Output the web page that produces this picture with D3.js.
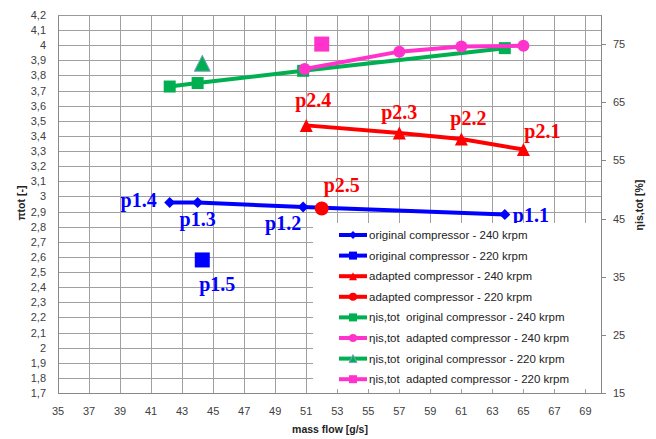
<!DOCTYPE html>
<html>
<head>
<meta charset="utf-8">
<script src="https://cdn.jsdelivr.net/npm/d3@7"></script>
<style>
  body { margin: 0; background: #fff; }
  svg { display: block; font-family: "Liberation Sans", Arial, sans-serif; }
</style>
</head>
<body>
<svg id="chart" width="656" height="439"></svg>
<script>
// data
var origMass240 = [42.2, 44.0, 50.8, 63.8];
var origPi240 = [2.96, 2.96, 2.93, 2.88];
var origMass220 = [44.3];
var origPi220 = [2.58];
var adapMass240 = [51.0, 57.0, 61.0, 65.0];
var adapPi240 = [3.47, 3.42, 3.38, 3.31];
var adapMass220 = [52.0];
var adapPi220 = [2.92];

var effOrigMass240 = [42.2, 44.0, 50.8, 63.8];
var effOrig240 = [67.7, 68.3, 70.4, 74.3];
var effAdapMass240 = [50.9, 57.0, 61.0, 65.0];
var effAdap240 = [70.7, 73.7, 74.6, 74.7];
var effOrigMass220 = [44.3];
var effOrig220 = [71.7];
var effAdapMass220 = [52.0];
var effAdap220 = [75.0];

var origLabels240 = ["p1.4", "p1.3", "p1.2", "p1.1"];
var origLabels220 = ["p1.5"];
var adapLabels240 = ["p2.4", "p2.3", "p2.2", "p2.1"];
var adapLabels220 = ["p2.5"];

var massTicks = d3.range(35, 70, 2);
var effTicks = [15, 25, 35, 45, 55, 65, 75];

var legendNames = [
  "original compressor - 240 krpm",
  "original compressor - 220 krpm",
  "adapted compressor - 240 krpm",
  "adapted compressor - 220 krpm",
  "ηis,tot  original compressor - 240 krpm",
  "ηis,tot  adapted compressor - 240 krpm",
  "ηis,tot  original compressor - 220 krpm",
  "ηis,tot  adapted compressor - 220 krpm"
];

var blue = "#0000ff", red = "#ff0000", green = "#00b050", pink = "#ff33cc";

var svg = d3.select("#chart");
var plotL = 58, plotR = 601, plotT = 15, plotB = 393;

var x = d3.scaleLinear().domain([35, 70]).range([plotL, plotR]);
var y = d3.scaleLinear().domain([1.7, 4.2]).range([plotB, plotT]);
var y2 = d3.scaleLinear().domain([15, 80]).range([plotB, plotT]);

var piTicks = y.ticks(25);
var comma = function (v) { return d3.format("~g")(v).replace(".", ","); };

// grid
var grid = svg.append("g");
grid.selectAll(".hg").data(piTicks).enter().append("line")
  .attr("x1", plotL).attr("x2", plotR)
  .attr("y1", function (d) { return Math.round(y(d)) + 0.5; })
  .attr("y2", function (d) { return Math.round(y(d)) + 0.5; })
  .attr("stroke", "#a0a0a0");
grid.selectAll(".vg").data(massTicks).enter().append("line")
  .attr("y1", plotT).attr("y2", plotB)
  .attr("x1", function (d) { return Math.round(x(d)) + 0.5; })
  .attr("x2", function (d) { return Math.round(x(d)) + 0.5; })
  .attr("stroke", "#a0a0a0");

// axis lines
svg.append("line").attr("x1", plotL + 0.5).attr("x2", plotL + 0.5).attr("y1", plotT).attr("y2", plotB + 0.5).attr("stroke", "#888");
svg.append("line").attr("x1", plotR + 0.5).attr("x2", plotR + 0.5).attr("y1", plotT).attr("y2", plotB + 0.5).attr("stroke", "#888");
svg.append("line").attr("x1", plotL).attr("x2", plotR + 0.5).attr("y1", plotB + 0.5).attr("y2", plotB + 0.5).attr("stroke", "#888");
svg.append("line").attr("x1", plotL).attr("x2", plotR + 0.5).attr("y1", plotT + 0.5).attr("y2", plotT + 0.5).attr("stroke", "#999");

// tick labels
svg.selectAll(".yl").data(piTicks).enter().append("text")
  .attr("x", 46).attr("y", function (d) { return y(d) + 4; })
  .attr("text-anchor", "end").attr("font-size", 11).attr("fill", "#404040")
  .text(comma);
svg.selectAll(".xl").data(massTicks).enter().append("text")
  .attr("x", function (d) { return x(d); }).attr("y", 415)
  .attr("text-anchor", "middle").attr("font-size", 11).attr("fill", "#404040")
  .text(function (d) { return d; });
svg.selectAll(".rt").data(effTicks).enter().append("line")
  .attr("x1", plotR).attr("x2", plotR + 5)
  .attr("y1", function (d) { return Math.round(y2(d)) + 0.5; })
  .attr("y2", function (d) { return Math.round(y2(d)) + 0.5; })
  .attr("stroke", "#888");
svg.selectAll(".rl").data(effTicks).enter().append("text")
  .attr("x", 613).attr("y", function (d) { return y2(d) + 4; })
  .attr("font-size", 11).attr("fill", "#404040")
  .text(function (d) { return d; });

// axis titles
svg.append("text").attr("transform", "translate(25,203) rotate(-90)")
  .attr("text-anchor", "middle").attr("font-size", 10.5).attr("font-weight", "bold").attr("fill", "#222")
  .text("πtot [-]");
svg.append("text").attr("transform", "translate(643,205) rotate(-90)")
  .attr("text-anchor", "middle").attr("font-size", 10.5).attr("font-weight", "bold").attr("fill", "#222")
  .text("ηis,tot [%]");
svg.append("text").attr("x", 330).attr("y", 433)
  .attr("text-anchor", "middle").attr("font-size", 10.5).attr("font-weight", "bold").attr("fill", "#222")
  .text("mass flow [g/s]");

// markers
function markerPath(type, s) {
  if (type === "diamond") return "M0," + (-s) + "L" + s + ",0L0," + s + "L" + (-s) + ",0Z";
  if (type === "square") return "M" + (-s) + "," + (-s) + "h" + (2 * s) + "v" + (2 * s) + "h" + (-2 * s) + "Z";
  if (type === "triangle") return "M0," + (-s) + "L" + s + "," + s + "L" + (-s) + "," + s + "Z";
  return "M" + (-s) + ",0a" + s + "," + s + " 0 1,0 " + (2 * s) + ",0a" + s + "," + s + " 0 1,0 " + (-2 * s) + ",0";
}

var series = [
  { xs: origMass240, ys: origPi240, sc: y, color: blue, shape: "diamond", size: 5.5, line: true },
  { xs: origMass220, ys: origPi220, sc: y, color: blue, shape: "square", size: 7.5, line: false },
  { xs: adapMass240, ys: adapPi240, sc: y, color: red, shape: "triangle", size: 6.5, line: true },
  { xs: adapMass220, ys: adapPi220, sc: y, color: red, shape: "circle", size: 7, line: false },
  { xs: effOrigMass240, ys: effOrig240, sc: y2, color: green, shape: "square", size: 6, line: true },
  { xs: effAdapMass240, ys: effAdap240, sc: y2, color: pink, shape: "circle", size: 6, line: true },
  { xs: effOrigMass220, ys: effOrig220, sc: y2, color: green, shape: "triangle", size: 8, line: false, outline: "#7f9fc8" },
  { xs: effAdapMass220, ys: effAdap220, sc: y2, color: pink, shape: "square", size: 7.5, line: false }
];

series.forEach(function (s) {
  var pts = s.xs.map(function (v, i) { return [x(v), s.sc(s.ys[i])]; });
  var g = svg.append("g");
  if (s.line) {
    g.append("path").attr("d", d3.line()(pts))
      .attr("fill", "none").attr("stroke", s.color).attr("stroke-width", 4)
      .attr("stroke-linejoin", "round");
  }
  g.selectAll("path.m").data(pts).enter().append("path")
    .attr("class", "m")
    .attr("transform", function (p) { return "translate(" + p[0] + "," + p[1] + ")"; })
    .attr("d", markerPath(s.shape, s.size))
    .attr("fill", s.color)
    .attr("stroke", s.outline || "none").attr("stroke-width", 1);
});

// point labels
var labelSets = [
  { names: origLabels240, xs: origMass240, ys: origPi240, color: blue,
    off: [[-13, 5, "end"], [0, 24, "middle"], [-20, 23, "middle"], [8, 7, "start"]] },
  { names: origLabels220, xs: origMass220, ys: origPi220, color: blue, off: [[15, 31, "middle"]] },
  { names: adapLabels240, xs: adapMass240, ys: adapPi240, color: red,
    off: [[7, -18, "middle"], [0, -14, "middle"], [7, -14, "middle"], [19, -12, "middle"]] },
  { names: adapLabels220, xs: adapMass220, ys: adapPi220, color: red, off: [[20, -17, "middle"]] }
];
labelSets.forEach(function (set) {
  set.names.forEach(function (name, i) {
    svg.append("text")
      .attr("x", x(set.xs[i]) + set.off[i][0])
      .attr("y", y(set.ys[i]) + set.off[i][1])
      .attr("text-anchor", set.off[i][2])
      .attr("font-family", "'Liberation Serif', 'Times New Roman', serif")
      .attr("font-weight", "bold").attr("font-size", 20)
      .attr("fill", set.color)
      .text(name);
  });
});

// legend
var legend = svg.append("g");
legend.append("rect").attr("x", 313).attr("y", 223).attr("width", plotR - 313).attr("height", 166).attr("fill", "#fff");
series.forEach(function (s, i) {
  var ly = 235 + i * 20.6;
  legend.append("line").attr("x1", 339).attr("x2", 367).attr("y1", ly).attr("y2", ly)
    .attr("stroke", s.color).attr("stroke-width", 4);
  legend.append("path").attr("transform", "translate(353," + ly + ")")
    .attr("d", markerPath(s.shape, 4)).attr("fill", s.color)
    .attr("stroke", s.outline || "none");
  legend.append("text").attr("x", 369).attr("y", ly + 4)
    .attr("font-size", 11.5).attr("fill", "#222")
    .style("white-space", "pre")
    .text(legendNames[i]);
});
</script>
</body>
</html>
